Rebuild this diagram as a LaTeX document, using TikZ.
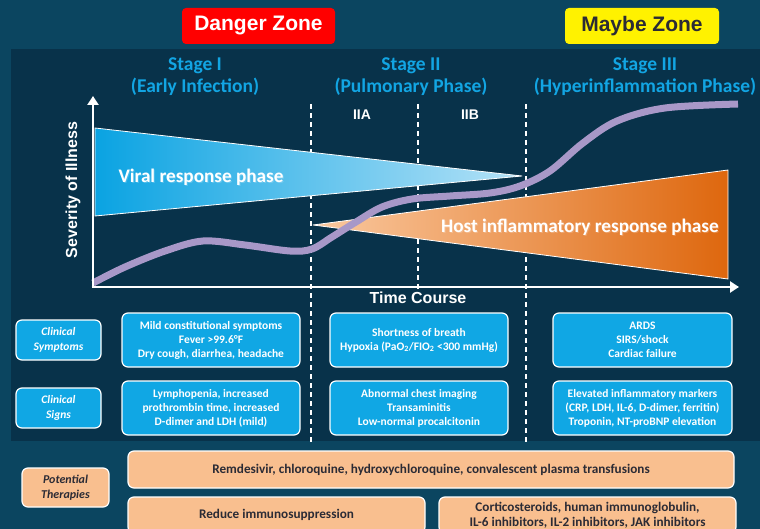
\documentclass[tikz,border=0pt]{standalone}
\usepackage{fontspec}
\setmainfont{Carlito}
\newfontfamily\arial{Liberation Sans}
\usetikzlibrary{arrows.meta}
\definecolor{outerbg}{HTML}{0B4560}
\definecolor{panelbg}{HTML}{08324A}
\definecolor{stageblue}{HTML}{12A5E3}
\definecolor{boxblue}{HTML}{10A7E4}
\definecolor{peach}{HTML}{F9BF8F}
\definecolor{darktext}{HTML}{2B2B35}
\definecolor{curvepurple}{HTML}{A898C8}
\definecolor{triblueL}{HTML}{0AA3E2}
\definecolor{triblueR}{HTML}{B5E2F7}
\definecolor{trioraL}{HTML}{FAC9A0}
\definecolor{trioraR}{HTML}{DE670E}
\tikzset{
  zonebox/.style={rounded corners=4pt, minimum height=36pt, inner sep=0pt, font=\arial\bfseries\fontsize{21}{24}\selectfont},
  stagetitle/.style={text=stageblue, align=center, font=\bfseries\fontsize{19.5}{22}\selectfont},
  axislabel/.style={text=white, font=\arial\bfseries\fontsize{16}{18}\selectfont},
  bluebox/.style={draw=white, line width=1.2pt, fill=boxblue, rounded corners=6pt, text=white, align=center, inner sep=0pt, font=\bfseries\fontsize{11.5}{14}\selectfont},
  labelbox/.style={bluebox, font=\bfseries\itshape\fontsize{11.5}{14.5}\selectfont},
  peachbox/.style={draw=white, line width=1.2pt, fill=peach, rounded corners=6pt, text=darktext, align=center, inner sep=0pt, font=\bfseries\fontsize{13.2}{15}\selectfont},
  peachlabel/.style={peachbox, font=\bfseries\itshape\fontsize{12}{15}\selectfont},
  stagedash/.style={draw=white, line width=1.1pt, dash pattern=on 5pt off 4pt},
  axisline/.style={draw=white, line width=2.6pt, -{Triangle[length=9pt,width=11pt]}},
  phasetext/.style={text=white, font=\bfseries\fontsize{19.2}{22}\selectfont}
}
\begin{document}
\begin{tikzpicture}[x=1pt,y=-1pt]
\useasboundingbox (0,0) rectangle (760,529);
\clip (0,0) rectangle (760,529);
% backgrounds
\fill[outerbg] (0,0) rectangle (760,529);
\fill[panelbg] (11,49) rectangle (760,441);

% zone labels
\node[zonebox, fill=red, text=white, minimum width=153pt] (danger) at (258.5,26) {Danger Zone};
\node[zonebox, fill=yellow, text=darktext, minimum width=154pt] (maybe) at (642,26) {Maybe Zone};

% stage titles
\node[stagetitle] (st1) at (195,77) {Stage I\\(Early Infection)};
\node[stagetitle] (st2) at (411,77) {Stage II\\(Pulmonary Phase)};
\node[stagetitle] (st3) at (645,77) {Stage III\\(Hyperinflammation Phase)};

\node[text=white, font=\arial\bfseries\fontsize{14}{16}\selectfont] (iia) at (362,115) {IIA};
\node[text=white, font=\arial\bfseries\fontsize{14}{16}\selectfont] (iib) at (470,115) {IIB};

% dashed stage separators
\coordinate (d1t) at (311,104); \coordinate (d1b) at (311,445);
\coordinate (d2t) at (418,104); \coordinate (d2b) at (418,290);
\coordinate (d3t) at (526,104); \coordinate (d3b) at (526,445);
\draw[stagedash] (d1t) -- (d1b);
\draw[stagedash] (d2t) -- (d2b);
\draw[stagedash] (d3t) -- (d3b);

% viral response triangle
\coordinate (vA) at (95,128); \coordinate (vB) at (522,176); \coordinate (vC) at (95,216);
\fill[left color=triblueL, right color=triblueR] (vA) -- (vB) -- (vC) -- cycle;
\draw[white, line width=0.8pt, line join=round] (vA) -- (vB) -- (vC) -- cycle;

% host inflammatory triangle
\coordinate (hA) at (313,225); \coordinate (hB) at (728,170); \coordinate (hC) at (728,279);
\fill[left color=trioraL, right color=trioraR] (hA) -- (hB) -- (hC) -- cycle;
\draw[white, line width=0.8pt, line join=round] (hA) -- (hB) -- (hC) -- cycle;

% illness curve
\draw[curvepurple, line width=7pt, line cap=butt] plot[smooth, tension=0.55] coordinates {
 (93,283) (125,267) (165,251) (203,241) (245,245) (290,251) (312,249) (332,237) (356,222) (382,207) (412,199) (450,196) (490,193) (520,186) (550,171) (583,143) (617,121) (665,108) (738,104)};

% phase labels
\node[text=black, opacity=0.2, phasetext] at (202,178) {Viral response phase};
\node[phasetext] (viral) at (201,177) {Viral response phase};
\node[text=black, opacity=0.2, phasetext] at (581,228) {Host inflammatory response phase};
\node[phasetext] (host) at (580,227) {Host inflammatory response phase};

% axes
\coordinate (origin) at (93,287);
\coordinate (ytip) at (93,96);
\coordinate (xtip) at (739,287);
\draw[axisline] ([xshift=-1.3pt]origin) -- (xtip);
\draw[axisline] ([yshift=1.3pt]origin) -- (ytip);
\node[axislabel, rotate=90] (yl) at (73,190) {Severity of Illness};
\node[axislabel] (xl) at (418,298) {Time Course};

% clinical rows
\node[labelbox, minimum width=85pt, minimum height=40pt] (lsym) at (58.5,340) {Clinical\\Symptoms};
\node[labelbox, minimum width=85pt, minimum height=40pt] (lsig) at (58.5,408) {Clinical\\Signs};

\node[bluebox, minimum width=178pt, minimum height=54pt] (s1sym) at (211,340) {Mild constitutional symptoms\\Fever >99.6°F\\Dry cough, diarrhea, headache};
\node[bluebox, minimum width=178pt, minimum height=54pt] (s1sig) at (211,408) {Lymphopenia, increased\\prothrombin time, increased\\D-dimer and LDH (mild)};
\node[bluebox, minimum width=178pt, minimum height=54pt] (s2sym) at (419,340) {Shortness of breath\\Hypoxia (PaO\textsubscript{2}/FIO\textsubscript{2} <300 mmHg)};
\node[bluebox, minimum width=178pt, minimum height=54pt] (s2sig) at (419,408) {Abnormal chest imaging\\Transaminitis\\Low-normal procalcitonin};
\node[bluebox, minimum width=179pt, minimum height=54pt] (s3sym) at (642.5,340) {ARDS\\SIRS/shock\\Cardiac failure};
\node[bluebox, minimum width=179pt, minimum height=54pt] (s3sig) at (642.5,408) {Elevated inflammatory markers\\(CRP, LDH, IL-6, D-dimer, ferritin)\\Troponin, NT-proBNP elevation};

% therapies
\node[peachlabel, minimum width=87pt, minimum height=39pt] (lther) at (65.5,487.5) {Potential\\Therapies};
\node[peachbox, minimum width=606pt, minimum height=37pt] (remd) at (431,469.5) {Remdesivir, chloroquine, hydroxychloroquine, convalescent plasma transfusions};
\node[peachbox, minimum width=297pt, minimum height=36pt] (reduce) at (276.5,515) {Reduce immunosuppression};
\node[peachbox, minimum width=297pt, minimum height=36pt] (cort) at (587.5,515) {Corticosteroids, human immunoglobulin,\\IL-6 inhibitors, IL-2 inhibitors, JAK inhibitors};
\end{tikzpicture}
\end{document}
